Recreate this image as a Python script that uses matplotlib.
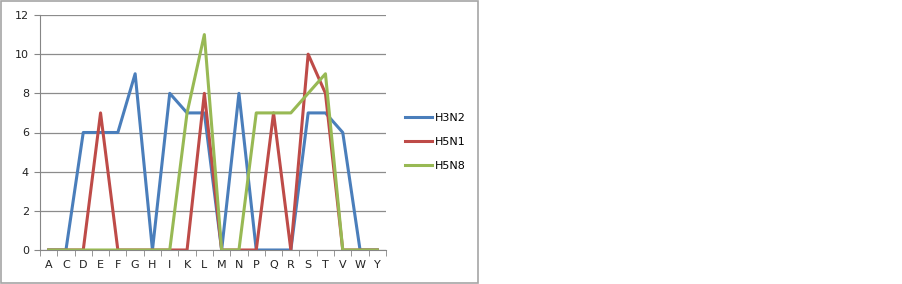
import matplotlib.pyplot as plt
import numpy as np
from matplotlib.patches import Rectangle

# amino acid categories and counts per subtype
residues = ['A', 'C', 'D', 'E', 'F', 'G', 'H', 'I', 'K', 'L',
            'M', 'N', 'P', 'Q', 'R', 'S', 'T', 'V', 'W', 'Y']
h3n2 = [0, 0, 6, 6, 6, 9, 0, 8, 7, 7, 0, 8, 0, 0, 0, 7, 7, 6, 0, 0]
h5n1 = [0, 0, 0, 7, 0, 0, 0, 0, 0, 8, 0, 0, 0, 7, 0, 10, 8, 0, 0, 0]
h5n8 = [0, 0, 0, 0, 0, 0, 0, 0, 7, 11, 0, 0, 7, 7, 7, 8, 9, 0, 0, 0]
yticks = [0, 2, 4, 6, 8, 10, 12]

W, H = 903, 284
fig = plt.figure(figsize=(W / 100, H / 100), dpi=100)

# outer chart frame
fig.patches.append(Rectangle((1 / W, 1 / H), 477 / W, 282 / H, transform=fig.transFigure,
                             fill=False, edgecolor='#a6a6a6', linewidth=1.2))

ax = fig.add_axes([40 / W, 34 / H, 346 / W, 235 / H])
x = np.arange(len(residues))

ax.plot(x, h3n2, color='#4a7ebb', lw=2.2, label='H3N2')
ax.plot(x, h5n1, color='#be4b48', lw=2.2, label='H5N1')
ax.plot(x, h5n8, color='#98b954', lw=2.2, label='H5N8')

ax.set_xlim(-0.5, len(residues) - 0.5)
ax.set_ylim(0, 12)
ax.set_yticks(yticks)
ax.set_xticks(x)
ax.set_xticklabels(residues)
ax.set_xticks(np.arange(-0.5, len(residues)), minor=True)
ax.tick_params(axis='x', which='major', length=0, pad=7, labelsize=8)
ax.tick_params(axis='x', which='minor', length=4, color='#868686')
ax.tick_params(axis='y', length=4, color='#868686', labelsize=8, pad=4)
for lab in ax.get_xticklabels() + ax.get_yticklabels():
    lab.set_color('#222222')
ax.grid(axis='y', color='#8c8c8c', linewidth=0.9)
ax.set_axisbelow(True)
for s in ['top', 'right']:
    ax.spines[s].set_visible(False)
ax.spines['left'].set_color('#868686')
ax.spines['bottom'].set_color('#868686')

ax.legend(loc='center left', bbox_to_anchor=(1.025, 0.46), frameon=False, fontsize=8,
          handlelength=2.5, handletextpad=0.2, labelspacing=1.25)

plt.savefig('out.png', dpi=100)
